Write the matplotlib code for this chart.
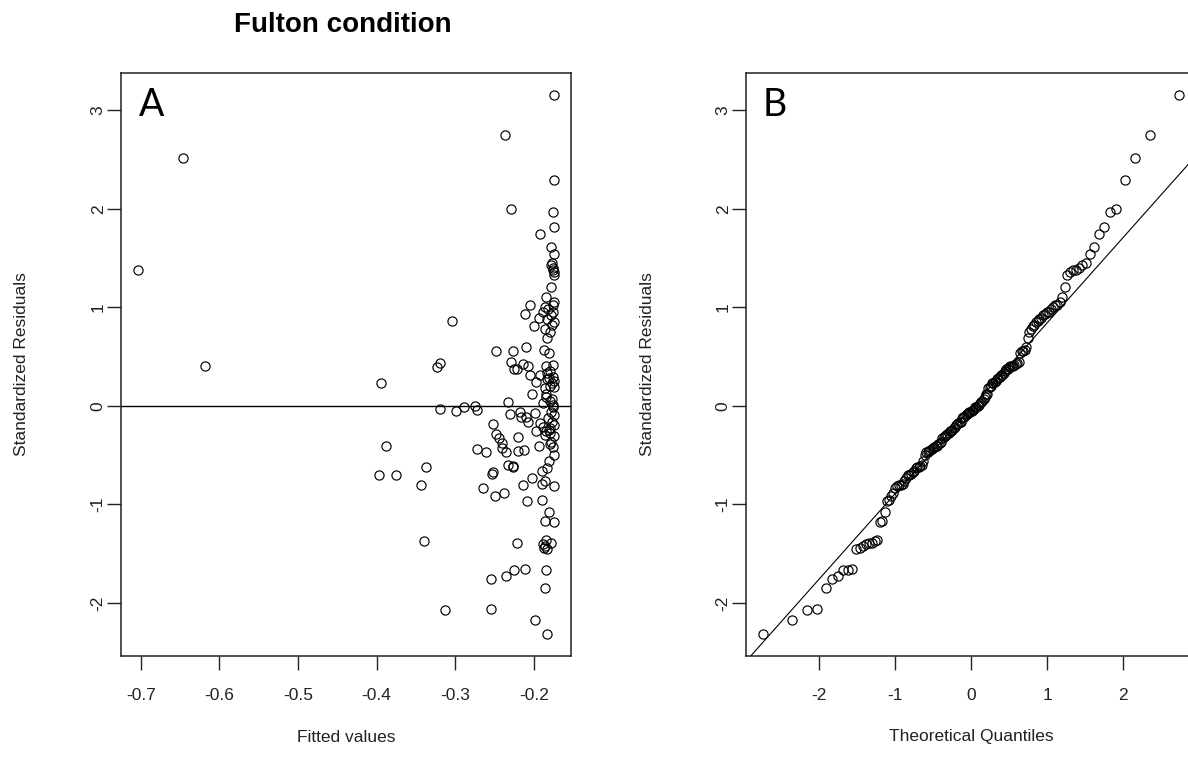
import matplotlib
matplotlib.use('Agg')
import matplotlib.pyplot as plt
import numpy as np
from statistics import NormalDist

plt.rcParams['font.family'] = ['Liberation Sans', 'DejaVu Sans']
plt.rcParams['axes.unicode_minus'] = False

# fitted values and standardized residuals of the condition model
fitted = [-0.704, -0.646, -0.618, -0.395, -0.304, -0.319, -0.323, -0.319, -0.299, -0.388,
          -0.397, -0.375, -0.337, -0.344, -0.340, -0.313, -0.175, -0.237, -0.175, -0.229,
          -0.176, -0.175, -0.192, -0.178, -0.175, -0.177, -0.176, -0.175, -0.174, -0.178,
          -0.184, -0.205, -0.174, -0.176, -0.211, -0.188, -0.182, -0.194, -0.200, -0.186,
          -0.175, -0.183, -0.248, -0.226, -0.210, -0.187, -0.181, -0.229, -0.221, -0.214,
          -0.208, -0.225, -0.176, -0.205, -0.192, -0.183, -0.176, -0.175, -0.175, -0.197,
          -0.203, -0.184, -0.233, -0.188, -0.176, -0.176, -0.289, -0.275, -0.272, -0.231,
          -0.218, -0.216, -0.210, -0.199, -0.208, -0.192, -0.188, -0.181, -0.175, -0.174,
          -0.197, -0.179, -0.175, -0.252, -0.248, -0.245, -0.241, -0.240, -0.236, -0.233,
          -0.226, -0.272, -0.261, -0.220, -0.220, -0.213, -0.193, -0.179, -0.174, -0.181,
          -0.253, -0.252, -0.227, -0.203, -0.214, -0.190, -0.186, -0.174, -0.265, -0.250,
          -0.238, -0.209, -0.190, -0.181, -0.186, -0.174, -0.222, -0.188, -0.184, -0.178,
          -0.187, -0.183, -0.186, -0.255, -0.235, -0.225, -0.211, -0.184, -0.186, -0.255,
          -0.199, -0.183,
          -0.178, -0.183, -0.176, -0.190, -0.177, -0.184, -0.179, -0.186, -0.178, -0.182,
          -0.180, -0.185, -0.177, -0.179, -0.183, -0.177, -0.186, -0.181, -0.180, -0.185,
          -0.178, -0.183, -0.176, -0.186, -0.180, -0.177, -0.176, -0.178]
std_resid = [1.38, 2.52, 0.40, 0.23, 0.86, 0.44, 0.39, -0.03, -0.05, -0.41,
             -0.70, -0.70, -0.62, -0.80, -1.37, -2.07, 3.16, 2.75, 2.29, 2.00,
             1.97, 1.82, 1.74, 1.61, 1.54, 1.45, 1.38, 1.33, 1.36, 1.21,
             1.11, 1.02, 1.05, 1.02, 0.93, 0.95, 0.98, 0.89, 0.81, 0.78,
             0.85, 0.69, 0.56, 0.56, 0.60, 0.57, 0.54, 0.45, 0.37, 0.43,
             0.40, 0.37, 0.42, 0.31, 0.31, 0.33, 0.29, 0.25, 0.19, 0.24,
             0.12, 0.09, 0.04, 0.03, 0.01, -0.01, -0.01, 0.00, -0.04, -0.08,
             -0.06, -0.11, -0.11, -0.07, -0.16, -0.17, -0.21, -0.24, -0.19, -0.09,
             -0.26, -0.28, -0.31, -0.18, -0.29, -0.33, -0.38, -0.43, -0.47, -0.60,
             -0.61, -0.44, -0.47, -0.32, -0.46, -0.45, -0.41, -0.39, -0.50, -0.56,
             -0.69, -0.67, -0.62, -0.73, -0.80, -0.79, -0.76, -0.81, -0.83, -0.91,
             -0.88, -0.97, -0.96, -1.08, -1.17, -1.18, -1.39, -1.40, -1.36, -1.39,
             -1.44, -1.45, -1.42, -1.76, -1.73, -1.67, -1.66, -1.67, -1.85, -2.06,
             -2.17, -2.32,
             -0.37, -0.63, -0.42, -0.66, -0.16, -0.26, -0.22, -0.30, -0.06, -0.12,
             0.05, 0.12, 0.07, 0.20, 0.27, 0.23, 0.18, 0.28, 0.35, 0.40,
             0.92, 0.88, 0.95, 1.00, 0.75, 0.82, 1.40, 1.43]

xticks_a = [-0.7, -0.6, -0.5, -0.4, -0.3, -0.2]
xticks_b = [-2, -1, 0, 1, 2]
yticks = [-2, -1, 0, 1, 2, 3]


def r_range(v):
    # R style axis range: data range widened by 4% each side
    lo, hi = min(v), max(v)
    d = (hi - lo) * 0.04
    return lo - d, hi + d


def style_axes(ax):
    for s in ax.spines.values():
        s.set_linewidth(1.1)
        s.set_color('#222222')
    ax.tick_params(direction='out', length=10, width=1, labelsize=12.5, colors='#222222')
    ax.tick_params(axis='x', pad=13)
    ax.tick_params(axis='y', pad=1, labelrotation=90)
    ax.set_yticks(yticks)
    ax.set_yticklabels([str(t) for t in yticks], va='center')
    ax.set_ylim(r_range(std_resid))


fig = plt.figure(figsize=(11.88, 7.61), dpi=100)
axA = fig.add_axes([121 / 1188, 1 - 656 / 761, 450 / 1188, 583 / 761])
axB = fig.add_axes([746 / 1188, 1 - 656 / 761, 450 / 1188, 583 / 761])

######## A: residuals vs fitted
axA.plot(fitted, std_resid, 'o', ms=6.6, mfc='none', mec='black', mew=0.85)
axA.axhline(0, color='black', lw=1)
axA.set_xlim(r_range(fitted))
axA.set_xticks(xticks_a)
axA.set_xticklabels(['%.1f' % t for t in xticks_a])
style_axes(axA)
axA.text(0.04, 0.926, 'A', transform=axA.transAxes, fontsize=27,
         family=['Lato', 'DejaVu Sans'], va='baseline', ha='left')

######## B: normal QQ plot of the same residuals
n = len(std_resid)
y_sorted = np.sort(std_resid)
nd = NormalDist()
theo = np.array([nd.inv_cdf((i - 0.5) / n) for i in range(1, n + 1)])
axB.plot(theo, y_sorted, 'o', ms=6.6, mfc='none', mec='black', mew=0.85)
# reference line through the quartiles
yq = np.quantile(std_resid, [0.25, 0.75])
xq = np.array([nd.inv_cdf(0.25), nd.inv_cdf(0.75)])
slope = (yq[1] - yq[0]) / (xq[1] - xq[0])
icpt = yq[0] - slope * xq[0]
axB.axline((0, icpt), slope=slope, color='black', lw=0.8)
axB.set_xlim(r_range(theo))
axB.set_xticks(xticks_b)
axB.set_xticklabels([str(t) for t in xticks_b])
style_axes(axB)
axB.text(0.038, 0.926, 'B', transform=axB.transAxes, fontsize=27,
         family=['Lato', 'DejaVu Sans'], va='baseline', ha='left')

fig.text(342.5 / 1188, 1 - 32 / 761, 'Fulton condition', fontsize=20, fontweight='bold',
         ha='center', va='baseline')
fig.text(22 / 1188, 1 - 364.5 / 761, 'Standardized Residuals', fontsize=12.5,
         rotation=90, ha='center', va='center', color='#222222')
fig.text(648 / 1188, 1 - 364.5 / 761, 'Standardized Residuals', fontsize=12.5,
         rotation=90, ha='center', va='center', color='#222222')
fig.text(346 / 1188, 1 - 737 / 761, 'Fitted values', fontsize=12.5,
         ha='center', va='center', color='#222222')
fig.text(971 / 1188, 1 - 737 / 761, 'Theoretical Quantiles', fontsize=12.5,
         ha='center', va='center', color='#222222')

fig.savefig('out.png', dpi=100, facecolor='white')
